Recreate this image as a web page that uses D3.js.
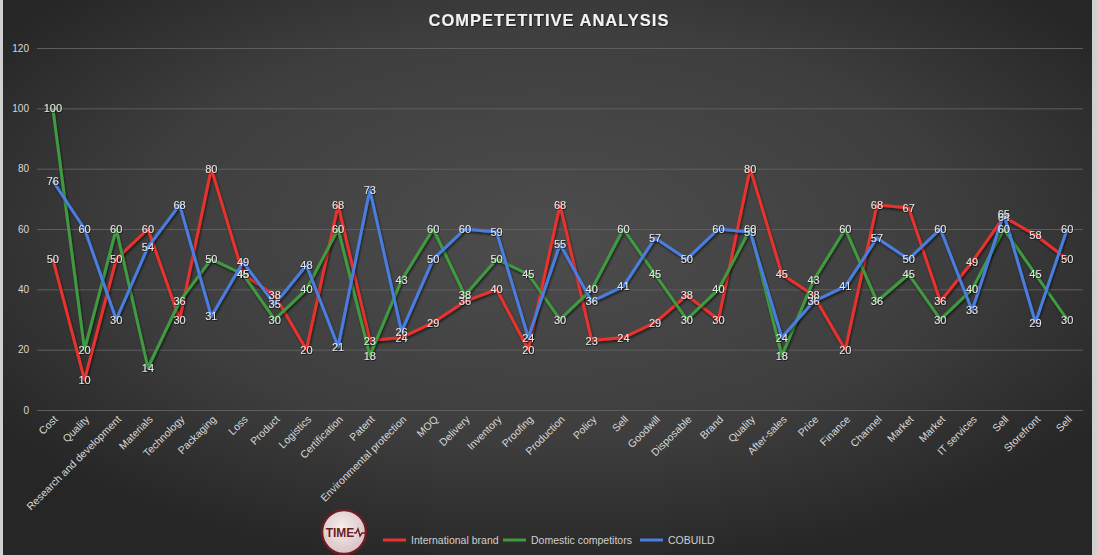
<!DOCTYPE html>
<html><head><meta charset="utf-8">
<script src="https://cdn.jsdelivr.net/npm/d3@7"></script>
<style>html,body{margin:0;padding:0;background:#2b2b2b;overflow:hidden}svg{display:block}</style>
</head><body>
<svg id="c" width="1097" height="555"></svg>
<script>
const categories = ["Cost","Quality","Research and development","Materials","Technology","Packaging","Loss","Product","Logistics","Certification","Patent","Environmental protection","MOQ","Delivery","Inventory","Proofing","Production","Policy","Sell","Goodwill","Disposable","Brand","Quality","After-sales","Price","Finance","Channel","Market","Market","IT services","Sell","Storefront","Sell"];
const international = [50,10,50,60,30,80,45,38,20,68,23,24,29,36,40,20,68,23,24,29,38,30,80,45,38,20,68,67,36,49,64,58,50];
const domestic = [100,20,60,14,36,50,45,30,40,60,18,43,60,38,50,45,30,40,60,45,30,40,60,18,43,60,36,45,30,40,60,45,30];
const cobuild = [76,60,30,54,68,31,49,35,48,21,73,26,50,60,59,24,55,36,41,57,50,60,59,24,36,41,57,50,60,33,65,29,60];
const seriesNames = ["International brand","Domestic competitors","COBUILD"];
const seriesColors = ["#e8322e","#3f9a3f","#4a7ee0"];
const yTicks = [0,20,40,60,80,100,120];
const title = "COMPETETITIVE ANALYSIS";

const svg = d3.select("#c");
const W = 1097, H = 555;
const defs = svg.append("defs");
const bg = defs.append("radialGradient").attr("id","bg").attr("cx","50%").attr("cy","42%").attr("r","62%");
bg.append("stop").attr("offset","0%").attr("stop-color","#4d4d4d");
bg.append("stop").attr("offset","60%").attr("stop-color","#3e3e3e");
bg.append("stop").attr("offset","100%").attr("stop-color","#262626");
const sh = defs.append("filter").attr("id","sh").attr("x","-10%").attr("y","-10%").attr("width","120%").attr("height","130%");
sh.append("feDropShadow").attr("dx",1).attr("dy",2).attr("stdDeviation",1.2).attr("flood-color","#000").attr("flood-opacity",0.55);
const tsh = defs.append("filter").attr("id","tsh");
tsh.append("feDropShadow").attr("dx",0.6).attr("dy",0.8).attr("stdDeviation",0.5).attr("flood-color","#000").attr("flood-opacity",0.7);

svg.append("rect").attr("width",W).attr("height",H).attr("fill","#d0d0d0");
svg.append("rect").attr("x",3).attr("y",0).attr("width",1089).attr("height",H).attr("fill","url(#bg)");

const x = d3.scalePoint().domain(d3.range(categories.length)).range([37,1083]).padding(0.5);
const y = d3.scaleLinear().domain([0,120]).range([410,48]);

// gridlines
const yAxis = svg.append("g").attr("transform","translate(37,0)")
  .call(d3.axisLeft(y).tickValues(yTicks).tickSize(-1046).tickPadding(8));
yAxis.select(".domain").remove();
yAxis.selectAll("line").attr("stroke","#5e5e5e").attr("stroke-width",1);
yAxis.selectAll("text").attr("fill","#d8d8d8").attr("font-family","Liberation Sans, Arial, sans-serif").attr("font-size",10);

// x labels
const xAxis = svg.append("g").attr("transform","translate(0,410)")
  .call(d3.axisBottom(x).tickSize(0).tickFormat(i=>categories[i]));
xAxis.select(".domain").remove();
xAxis.selectAll("text").attr("fill","#d8d8d8").attr("font-family","Liberation Sans, Arial, sans-serif").attr("font-size",10.5)
  .attr("text-anchor","end").attr("dy",0).attr("y",0)
  .attr("transform","translate(5,10) rotate(-45)");

// title
svg.append("text").attr("x",549).attr("y",26).attr("text-anchor","middle")
  .attr("fill","#f2f2f2").attr("font-family","Liberation Sans, Arial, sans-serif").attr("font-weight","bold")
  .attr("font-size",16.5).attr("letter-spacing",1).attr("filter","url(#tsh)").text(title);

const data = [international, domestic, cobuild];
const line = d3.line().x((d,i)=>x(i)).y(d=>y(d));
data.forEach((s,k)=>{
  svg.append("path").datum(s).attr("d",line).attr("fill","none")
    .attr("stroke",seriesColors[k]).attr("stroke-width",3).attr("stroke-linejoin","round")
    .attr("filter","url(#sh)");
});
data.forEach((s,k)=>{
  svg.append("g").selectAll("text").data(s).join("text")
    .attr("x",(d,i)=>x(i)).attr("y",d=>y(d)+4).attr("text-anchor","middle")
    .attr("fill","#e6e6e6").attr("font-family","Liberation Sans, Arial, sans-serif").attr("font-size",11)
    .attr("filter","url(#tsh)").text(d=>d);
});

// logo
const lg = svg.append("g").attr("transform","translate(344,532)");
const lgr = defs.append("radialGradient").attr("id","lg").attr("cx","45%").attr("cy","40%").attr("r","60%");
lgr.append("stop").attr("offset","0%").attr("stop-color","#f6eeee");
lgr.append("stop").attr("offset","100%").attr("stop-color","#d9c2c4");
lg.append("circle").attr("r",22).attr("fill","url(#lg)").attr("stroke","#6b1d24").attr("stroke-width",2.5);
lg.append("text").attr("x",-4).attr("y",5).attr("text-anchor","middle").attr("fill","#6b1d24")
  .attr("font-family","Liberation Sans, Arial, sans-serif").attr("font-weight","bold").attr("font-size",12).text("TIME");
lg.append("path").attr("d","M10,1 L12,1 L14,-3 L16,4 L18,1 L21,1").attr("fill","none").attr("stroke","#6b1d24").attr("stroke-width",1.4);

// legend
const legX = [383, 503, 640];
seriesNames.forEach((n,k)=>{
  svg.append("line").attr("x1",legX[k]).attr("x2",legX[k]+23).attr("y1",540).attr("y2",540)
    .attr("stroke",seriesColors[k]).attr("stroke-width",3);
  svg.append("text").attr("x",legX[k]+28).attr("y",544).attr("fill","#d0d0d0")
    .attr("font-family","Liberation Sans, Arial, sans-serif").attr("font-size",10.5).text(n);
});
</script>
</body></html>
